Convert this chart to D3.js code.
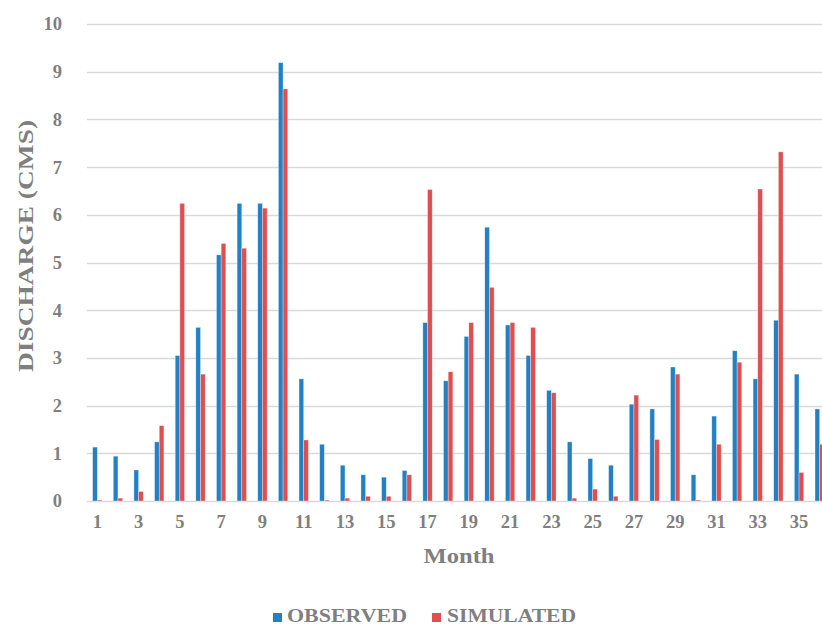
<!DOCTYPE html>
<html>
<head>
<meta charset="utf-8">
<script src="https://cdn.jsdelivr.net/npm/d3@7/dist/d3.min.js"></script>
<style>
  html, body { margin: 0; padding: 0; background: #fff; }
  svg { display: block; }
  text { font-family: "Liberation Serif", "DejaVu Serif", serif; fill: #7f7f7f; font-weight: bold; }
</style>
</head>
<body>
<div id="chart"></div>
<script>
// Monthly discharge, observed vs simulated (CMS)
const months = d3.range(1, 37);
const observed = [1.13, 0.94, 0.65, 1.24, 3.05, 3.64, 5.16, 6.24, 6.24, 9.19,
                  2.56, 1.19, 0.75, 0.55, 0.50, 0.64, 3.74, 2.52, 3.45, 5.74,
                  3.69, 3.05, 2.32, 1.24, 0.89, 0.75, 2.03, 1.93, 2.81, 0.55,
                  1.78, 3.15, 2.56, 3.79, 2.66, 1.93];
const simulated = [0.02, 0.06, 0.20, 1.58, 6.24, 2.66, 5.40, 5.30, 6.14, 8.64,
                   1.28, 0.02, 0.06, 0.10, 0.10, 0.55, 6.53, 2.71, 3.74, 4.48,
                   3.74, 3.64, 2.27, 0.06, 0.25, 0.10, 2.22, 1.29, 2.66, 0.02,
                   1.19, 2.91, 6.54, 7.32, 0.60, 1.19];
const yTicks = [0, 1, 2, 3, 4, 5, 6, 7, 8, 9, 10];
const xTickLabels = months.filter(m => m % 2 === 1);
const seriesNames = ["OBSERVED", "SIMULATED"];
const seriesColors = ["#2381c3", "#df4f4f"];

const W = 822, H = 628;
const margin = { left: 87, top: 24, bottom: 127 };
const plotRight = 830; // the last category runs past the right edge

const svg = d3.select("#chart").append("svg")
  .attr("width", W).attr("height", H);

const x = d3.scaleBand()
  .domain(months)
  .range([margin.left, plotRight])
  .paddingInner(0.546)
  .paddingOuter(0.273);

const xSub = d3.scaleBand()
  .domain(seriesNames)
  .range([0, x.bandwidth()]);

const y = d3.scaleLinear()
  .domain([0, 10])
  .range([H - margin.bottom, margin.top]);

// gridlines
svg.append("g")
  .selectAll("line")
  .data(yTicks)
  .join("line")
  .attr("x1", margin.left)
  .attr("x2", plotRight)
  .attr("y1", d => Math.round(y(d)) + 0.5)
  .attr("y2", d => Math.round(y(d)) + 0.5)
  .attr("stroke", "#d9d9d9")
  .attr("stroke-width", 1.4);

// y axis labels
const yAxis = svg.append("g")
  .attr("transform", `translate(${margin.left - 25},0)`)
  .call(d3.axisLeft(y).tickValues(yTicks).tickSize(0).tickPadding(0).tickFormat(d3.format("d")));
yAxis.select(".domain").remove();
yAxis.selectAll("text")
  .attr("font-size", 18.5)
  .attr("font-family", "Liberation Serif")
  .attr("font-weight", "bold")
  .attr("fill", "#7f7f7f");

// x axis labels (odd months)
const xAxis = svg.append("g")
  .attr("transform", `translate(0,${y(0) + 14})`)
  .call(d3.axisBottom(x).tickValues(xTickLabels).tickSize(0).tickPadding(0));
xAxis.select(".domain").remove();
xAxis.selectAll("text")
  .attr("font-size", 18.5)
  .attr("font-family", "Liberation Serif")
  .attr("font-weight", "bold")
  .attr("fill", "#7f7f7f");

// bars
const data = months.map((m, i) => ({ month: m, values: [observed[i], simulated[i]] }));
const groups = svg.append("g")
  .selectAll("g")
  .data(data)
  .join("g")
  .attr("transform", d => `translate(${x(d.month)},0)`);

groups.selectAll("rect")
  .data(d => d.values.map((v, j) => ({ key: seriesNames[j], value: v, color: seriesColors[j] })))
  .join("rect")
  .attr("x", d => xSub(d.key))
  .attr("width", xSub.bandwidth())
  .attr("y", d => y(d.value))
  .attr("height", d => y(0) - y(d.value))
  .attr("fill", d => d.color)
  .attr("stroke", "rgba(255,255,255,0.55)")
  .attr("stroke-width", 0.6);

// axis titles
svg.append("text")
  .attr("transform", `translate(33,${246}) rotate(-90)`)
  .attr("text-anchor", "middle")
  .attr("font-size", 20)
  .attr("textLength", 252)
  .attr("lengthAdjust", "spacingAndGlyphs")
  .text("DISCHARGE (CMS)");

svg.append("text")
  .attr("x", 459)
  .attr("y", 563)
  .attr("text-anchor", "middle")
  .attr("font-size", 21)
  .attr("textLength", 71)
  .attr("lengthAdjust", "spacingAndGlyphs")
  .text("Month");

// legend
const legendItems = [
  { name: seriesNames[0], color: seriesColors[0], sx: 273, tx: 287, tw: 120 },
  { name: seriesNames[1], color: seriesColors[1], sx: 432, tx: 447, tw: 129 }
];
const legend = svg.append("g");
legend.selectAll("rect")
  .data(legendItems)
  .join("rect")
  .attr("x", d => d.sx)
  .attr("y", 613)
  .attr("width", 9)
  .attr("height", 9)
  .attr("fill", d => d.color);
legend.selectAll("text")
  .data(legendItems)
  .join("text")
  .attr("x", d => d.tx)
  .attr("y", 622)
  .attr("font-size", 19)
  .attr("textLength", d => d.tw)
  .attr("lengthAdjust", "spacingAndGlyphs")
  .text(d => d.name);
</script>
</body>
</html>
